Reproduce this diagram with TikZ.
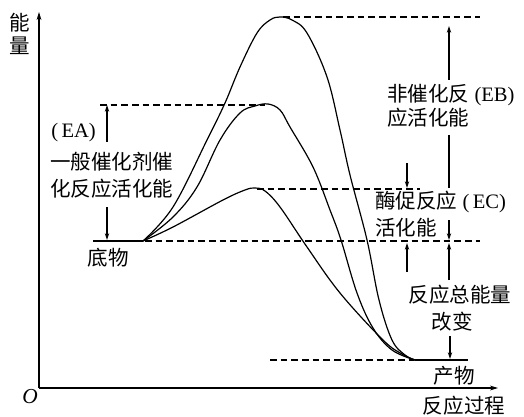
\documentclass[tikz,border=0pt]{standalone}
\usepackage{fontspec}
\setmainfont{Liberation Serif}
\newfontfamily\cjk{Noto Sans CJK SC}
\usetikzlibrary{arrows.meta}
\tikzset{
  lbl/.style={inner sep=0pt, font=\fontsize{15.4}{19}\selectfont\cjk},
  curve/.style={line width=0.9pt},
  lvl/.style={line width=0.9pt},
  dsh/.style={line width=0.8pt, dash pattern=on 5pt off 3pt},
  arr/.style={line width=0.8pt, -{Stealth[length=5pt,width=3.2pt]}},
  axis/.style={line width=1.1pt, -{Stealth[length=6pt,width=3.6pt]}}
}
\newcommand{\lat}[1]{{\rmfamily #1}}
\begin{document}
\begin{tikzpicture}[x=0.75pt,y=-0.75pt]
\useasboundingbox (0,0) rectangle (524,417);
% axes
\coordinate (O) at (39,388);
\coordinate (Ytip) at (39,12);
\coordinate (Xtip) at (498,388);
\draw[axis] (O) -- (Ytip);
\draw[axis] (O) -- (Xtip);
\node[lbl, font=\fontsize{16}{20}\selectfont\itshape] (o) at (30,397) {O};
\node[lbl] (neng) at (20,23) {能};
\node[lbl] (liang) at (20,46) {量};
\node[lbl] (guocheng) at (464,406) {反应过程};
% levels
\coordinate (S0) at (93,241);
\coordinate (S) at (143,241);
\coordinate (P) at (415,360);
\coordinate (P1) at (468,360);
\draw[lvl] (S0) -- (S);
\draw[lvl] (P) -- (P1);
% dashed lines
\coordinate (d1a) at (283,17);  \coordinate (d1b) at (480,17);
\coordinate (d2a) at (100,105); \coordinate (d2b) at (265,105);
\coordinate (d3a) at (257,189); \coordinate (d3b) at (420,189);
\coordinate (d4a) at (145,241); \coordinate (d4b) at (480,241);
\coordinate (d5a) at (270,360); \coordinate (d5b) at (414,360);
\draw[dsh] (d1a) -- (d1b);
\draw[dsh] (d2a) -- (d2b);
\draw[dsh] (d3a) -- (d3b);
\draw[dsh] (d4a) -- (d4b);
\draw[dsh] (d5a) -- (d5b);
% curves
\draw[curve] plot[smooth, tension=0.6] coordinates {(143,241) (173,207) (207,140) (225,103) (240,67) (257,33) (270,20) (280,17) (292,20) (307,33) (327,77) (340,130) (350,175) (367,240) (379,300) (392,340) (405,355) (415,360)};
\draw[curve] plot[smooth, tension=0.6] coordinates {(143,241) (173,217) (197,187) (220,140) (240,113) (255,106) (268,104) (280,110) (290,127) (313,167) (330,210) (341,240) (357,293) (373,328) (392,350) (415,360)};
\draw[curve] plot[smooth, tension=0.6] coordinates {(143,241) (173,227) (223,200) (245,190) (255,188) (265,191) (280,207) (307,247) (340,293) (383,340) (402,354) (415,360)};
% EA
\coordinate (ea1) at (107,142); \coordinate (ea2) at (107,105);
\coordinate (ea3) at (107,207); \coordinate (ea4) at (107,240);
\draw[arr] (ea1) -- (ea2);
\draw[arr] (ea3) -- (ea4);
\node[lbl, anchor=west] (ealbl) at (51,133) {\lat{(\,EA)}};
\node[lbl, anchor=west] (ea5) at (50,162) {一般催化剂催};
\node[lbl, anchor=west] (ea6) at (50,189) {化反应活化能};
\node[lbl] (diwu) at (108,258) {底物};
% EB
\coordinate (eb1) at (449,80); \coordinate (eb2) at (449,26);
\coordinate (eb3) at (449,135); \coordinate (eb4) at (449,188);
\coordinate (eb5) at (449,220); \coordinate (eb6) at (449,240);
\draw[arr] (eb1) -- (eb2);
\draw[line width=0.8pt] (eb3) -- (eb4);
\draw[arr] (eb5) -- (eb6);
\node[lbl, anchor=west] (eblbl) at (387,95) {非催化反\lat{\ (EB)}};
\node[lbl, anchor=west] (eblbl2) at (387,118) {应活化能};
% EC
\coordinate (ec1) at (407,163); \coordinate (ec2) at (407,188);
\coordinate (ec3) at (407,272); \coordinate (ec4) at (407,243);
\draw[arr] (ec1) -- (ec2);
\draw[arr] (ec3) -- (ec4);
\node[lbl, anchor=west] (eclbl) at (375,202) {酶促反应\lat{\ (\,EC)}};
\node[lbl, anchor=west] (eclbl2) at (375,228) {活化能};
% total
\coordinate (t1) at (449,280); \coordinate (t2) at (449,243);
\coordinate (t3) at (450,336); \coordinate (t4) at (450,359);
\draw[arr] (t1) -- (t2);
\draw[arr] (t3) -- (t4);
\node[lbl] (tot) at (460,295) {反应总能量};
\node[lbl] (tot2) at (452,322) {改变};
\node[lbl] (chanwu) at (454,376) {产物};
\end{tikzpicture}
\end{document}
